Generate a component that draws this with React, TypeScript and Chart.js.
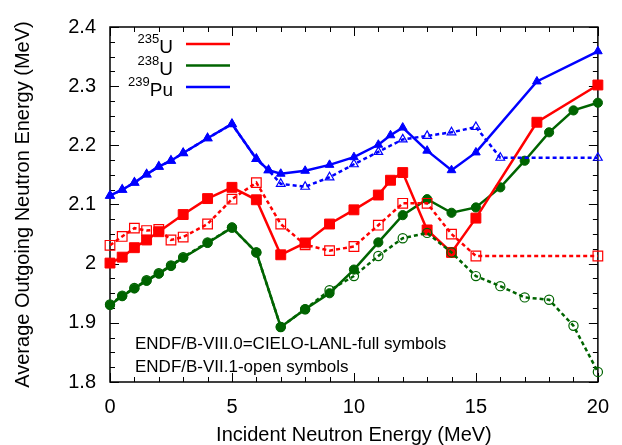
import React, { useEffect, useRef } from "react";
import { Chart, registerables } from "chart.js";

Chart.register(...registerables);

const FONT = "'Liberation Sans', Arial, Helvetica, sans-serif";

// Axis ranges and tick labels
const X_MIN = 0;
const X_MAX = 20;
const X_TICK_STEP = 5;
const Y_MIN = 1.8;
const Y_MAX = 2.4;
const Y_TICK_STEP = 0.1;

// 235U
const E_U235_VIII = [0, 0.5, 1, 1.5, 2, 3, 4, 5, 6, 7, 8, 9, 10, 11, 11.5, 12, 13, 14, 15, 17.5, 20];
const U235_VIII = [2.001, 2.011, 2.027, 2.04, 2.054, 2.083, 2.11, 2.129, 2.108, 2.015, 2.035, 2.067, 2.091, 2.116, 2.141, 2.154, 2.057, 2.019, 2.077, 2.239, 2.302];
const E_U235_VII = [0, 0.5, 1, 1.5, 2, 2.5, 3, 4, 5, 6, 7, 8, 9, 10, 11, 12, 13, 14, 15, 20];
const U235_VII = [2.031, 2.046, 2.06, 2.056, 2.058, 2.04, 2.045, 2.067, 2.109, 2.137, 2.067, 2.032, 2.022, 2.029, 2.065, 2.102, 2.102, 2.05, 2.013, 2.013];

// 238U
const E_U238_VIII = [0, 0.5, 1, 1.5, 2, 2.5, 3, 4, 5, 6, 7, 8, 9, 10, 11, 12, 13, 14, 15, 16, 17, 18, 19, 20];
const U238_VIII = [1.93, 1.945, 1.958, 1.971, 1.983, 1.996, 2.01, 2.035, 2.061, 2.019, 1.893, 1.923, 1.95, 1.99, 2.036, 2.082, 2.109, 2.086, 2.095, 2.129, 2.174, 2.222, 2.259, 2.272];
const E_U238_VII = [0, 0.5, 1, 1.5, 2, 2.5, 3, 4, 5, 6, 7, 8, 9, 10, 11, 12, 13, 14, 15, 16, 17, 18, 19, 20];
const U238_VII = [1.931, 1.946, 1.959, 1.972, 1.984, 1.997, 2.011, 2.036, 2.061, 2.019, 1.893, 1.923, 1.955, 1.979, 2.013, 2.043, 2.052, 2.019, 1.979, 1.962, 1.943, 1.939, 1.895, 1.817];

// 239Pu
const E_PU239_VIII = [0, 0.5, 1, 1.5, 2, 2.5, 3, 4, 5, 6, 6.5, 7, 8, 9, 10, 11, 11.5, 12, 13, 14, 15, 17.5, 20];
const PU239_VIII = [2.115, 2.125, 2.137, 2.151, 2.164, 2.174, 2.187, 2.212, 2.236, 2.177, 2.158, 2.152, 2.157, 2.167, 2.18, 2.201, 2.217, 2.23, 2.191, 2.158, 2.188, 2.308, 2.359];
const E_PU239_VII = [0, 0.5, 1, 1.5, 2, 2.5, 3, 4, 5, 6, 6.5, 7, 8, 9, 10, 11, 12, 13, 14, 15, 16, 20];
const PU239_VII = [2.115, 2.125, 2.137, 2.151, 2.164, 2.174, 2.187, 2.212, 2.236, 2.177, 2.158, 2.135, 2.13, 2.146, 2.168, 2.189, 2.21, 2.216, 2.222, 2.231, 2.179, 2.179];

const RED = "#ff0000";
const GREEN = "#006400";
const BLUE = "#0000ff";

const LEGEND = [
  { mass: "235", symbol: "U", color: RED },
  { mass: "238", symbol: "U", color: GREEN },
  { mass: "239", symbol: "Pu", color: BLUE },
];

const NOTES = ["ENDF/B-VIII.0=CIELO-LANL-full symbols", "ENDF/B-VII.1-open symbols"];

const toPoints = (xs: number[], ys: number[]) => xs.map((x, i) => ({ x, y: ys[i] }));

const solid = (data: { x: number; y: number }[], color: string, style: string, radius: number) => ({
  data,
  borderColor: color,
  backgroundColor: color,
  borderWidth: 2.5,
  pointStyle: style,
  pointRadius: radius,
  pointBorderWidth: 1,
  pointBorderColor: color,
  pointBackgroundColor: color,
  clip: false as const,
  order: 2,
});

const open = (data: { x: number; y: number }[], color: string, style: string, radius: number) => ({
  data,
  borderColor: color,
  backgroundColor: "rgba(0,0,0,0)",
  borderWidth: 2.5,
  borderDash: [4, 3],
  pointStyle: style,
  pointRadius: radius,
  pointBorderWidth: 1.2,
  pointBorderColor: color,
  pointBackgroundColor: "rgba(0,0,0,0)",
  clip: false as const,
  order: 1,
});

// Plot frame with inward ticks on all four sides
const framePlugin = {
  id: "frame",
  beforeDatasetsDraw(chart: any) {
    const { ctx, chartArea: a, scales } = chart;
    const xs = scales.x;
    const ys = scales.y;
    ctx.save();
    ctx.strokeStyle = "#000";
    ctx.lineWidth = 1.5;
    ctx.strokeRect(a.left, a.top, a.right - a.left, a.bottom - a.top);
    ctx.lineWidth = 1;
    ctx.beginPath();
    for (let v = X_MIN; v <= X_MAX; v += 1) {
      const px = Math.round(xs.getPixelForValue(v)) + 0.5;
      const len = v % 5 === 0 ? 9 : 5;
      ctx.moveTo(px, a.bottom);
      ctx.lineTo(px, a.bottom - len);
      ctx.moveTo(px, a.top);
      ctx.lineTo(px, a.top + len);
    }
    const nMinor = Math.round((Y_MAX - Y_MIN) / 0.025);
    for (let k = 0; k <= nMinor; k++) {
      const v = Y_MIN + k * 0.025;
      const py = Math.round(ys.getPixelForValue(v)) + 0.5;
      const len = k % 4 === 0 ? 9 : 5;
      ctx.moveTo(a.left, py);
      ctx.lineTo(a.left + len, py);
      ctx.moveTo(a.right, py);
      ctx.lineTo(a.right - len, py);
    }
    ctx.stroke();
    ctx.restore();
  },
  afterDraw(chart: any) {
    const { ctx, chartArea: a } = chart;
    ctx.save();
    ctx.fillStyle = "#000";
    // key
    const right = a.left + 63;
    LEGEND.forEach((item, i) => {
      const rowY = a.top + 17 + i * 21.5;
      ctx.font = `19px ${FONT}`;
      ctx.textAlign = "right";
      ctx.textBaseline = "alphabetic";
      const w = ctx.measureText(item.symbol).width;
      ctx.fillText(item.symbol, right, rowY + 9);
      ctx.font = `13px ${FONT}`;
      ctx.fillText(item.mass, right - w, rowY - 1);
      ctx.strokeStyle = item.color;
      ctx.lineWidth = 2.5;
      ctx.beginPath();
      ctx.moveTo(a.left + 76, rowY);
      ctx.lineTo(a.left + 120, rowY);
      ctx.stroke();
    });
    // library notes
    ctx.font = `17px ${FONT}`;
    ctx.textAlign = "left";
    ctx.textBaseline = "alphabetic";
    NOTES.forEach((t, i) => {
      ctx.fillText(t, a.left + 25, a.bottom - 33 + i * 23);
    });
    ctx.restore();
  },
};

export default function App() {
  const ref = useRef<HTMLCanvasElement | null>(null);

  useEffect(() => {
    if (!ref.current) return;
    const chart = new Chart(ref.current, {
      type: "line",
      data: {
        datasets: [
          solid(toPoints(E_U235_VIII, U235_VIII), RED, "rect", 7),
          solid(toPoints(E_U238_VIII, U238_VIII), GREEN, "circle", 4.6),
          solid(toPoints(E_PU239_VIII, PU239_VIII), BLUE, "triangle", 5),
          open(toPoints(E_U235_VII, U235_VII), RED, "rect", 6.8),
          open(toPoints(E_U238_VII, U238_VII), GREEN, "circle", 4.6),
          open(toPoints(E_PU239_VII, PU239_VII), BLUE, "triangle", 5),
        ] as any,
      },
      options: {
        animation: false,
        responsive: false,
        maintainAspectRatio: false,
        parsing: false,
        layout: { padding: { top: 27, right: 16, left: 0, bottom: 0 } },
        plugins: { legend: { display: false }, tooltip: { enabled: false } },
        scales: {
          x: {
            type: "linear",
            min: X_MIN,
            max: X_MAX,
            grid: { display: false, drawTicks: false },
            border: { display: false },
            ticks: {
              stepSize: X_TICK_STEP,
              padding: 13,
              color: "#000",
              font: { family: FONT, size: 20 },
              callback: (v: any) => String(v),
            },
            title: {
              display: true,
              text: "Incident Neutron Energy (MeV)",
              color: "#000",
              font: { family: FONT, size: 20 },
              padding: { top: 0, bottom: -2 },
            },
            afterFit: (s: any) => {
              s.height = 63;
            },
          },
          y: {
            type: "linear",
            min: Y_MIN,
            max: Y_MAX,
            grid: { display: false, drawTicks: false },
            border: { display: false },
            ticks: {
              stepSize: Y_TICK_STEP,
              padding: 14,
              color: "#000",
              font: { family: FONT, size: 20 },
              callback: (v: any) => String(Number(Number(v).toFixed(1))),
            },
            title: {
              display: true,
              text: "Average Outgoing Neutron Energy (MeV)",
              color: "#000",
              font: { family: FONT, size: 20 },
              padding: { top: 11, bottom: 0 },
            },
            afterFit: (s: any) => {
              s.width = 110;
            },
          },
        },
      },
      plugins: [framePlugin],
    });
    return () => chart.destroy();
  }, []);

  return (
    <div style={{ position: "absolute", left: 0, top: 0, width: 622, height: 445, background: "#fff" }}>
      <canvas ref={ref} width={622} height={445} />
    </div>
  );
}
